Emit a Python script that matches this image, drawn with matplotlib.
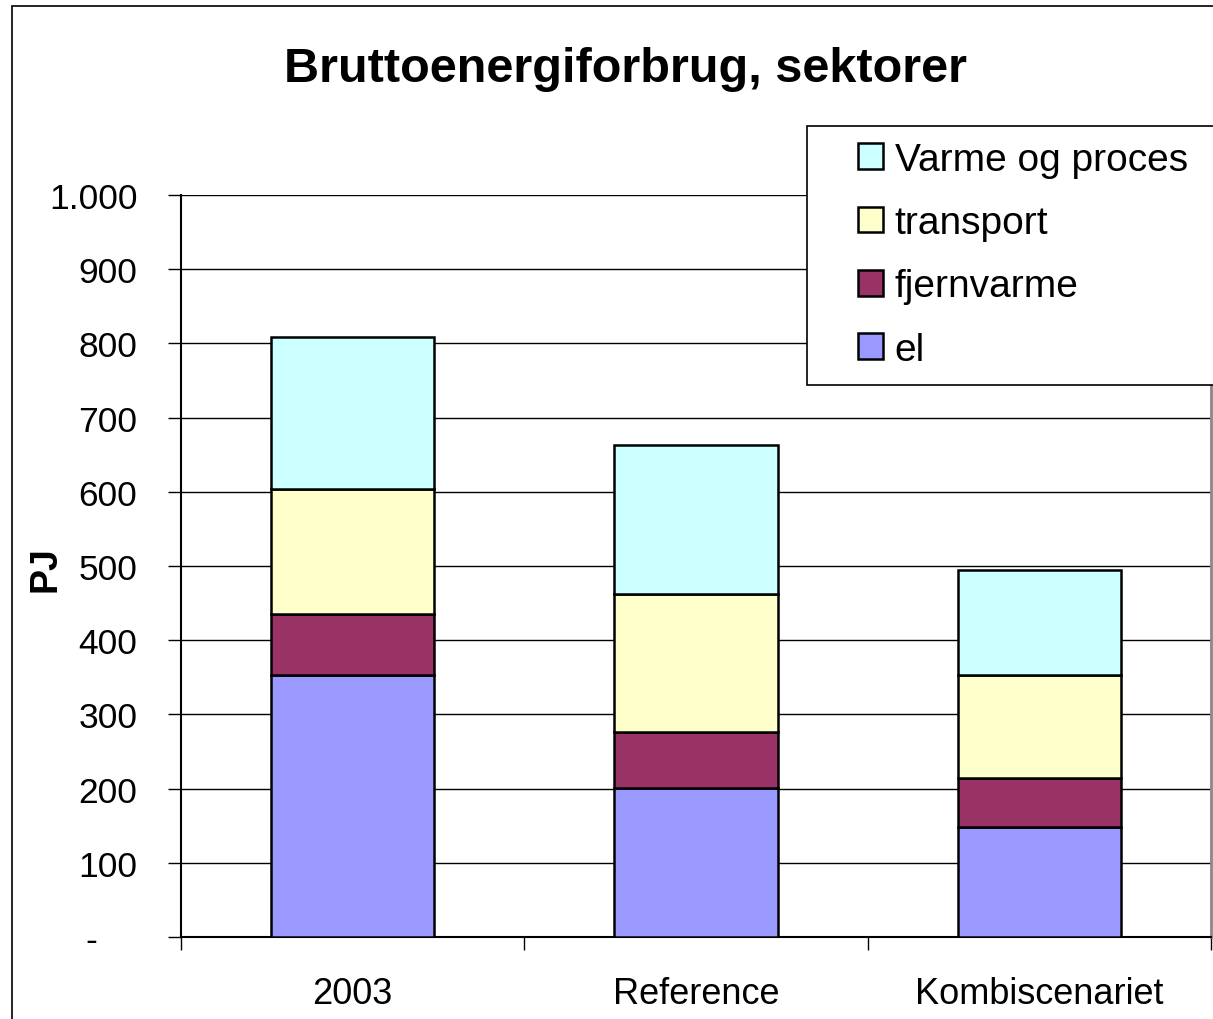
import numpy as np
import matplotlib.pyplot as plt
from matplotlib.patches import Rectangle

plt.rcParams['font.family'] = ['Liberation Sans', 'DejaVu Sans']

categories = ['2003', 'Reference', 'Kombiscenariet']
series = ['el', 'fjernvarme', 'transport', 'Varme og proces']
el = [353, 201, 148]
fjernvarme = [82, 75, 66]
transport = [169, 186, 139]
varme = [205, 201, 142]
colors = ['#9999FF', '#993366', '#FFFFCC', '#CCFFFF']
yticks = [0, 100, 200, 300, 400, 500, 600, 700, 800, 900, 1000]
ylabels = ['-    ', '100', '200', '300', '400', '500', '600', '700', '800', '900', '1.000']

fig = plt.figure(figsize=(12.13, 10.2), dpi=100)
ax = fig.add_axes([181/1213, 1 - 938/1020, 1030/1213, 742/1020])

x = np.arange(len(categories))
bottom = np.zeros(len(categories))
handles = []
for vals, name, c in zip([el, fjernvarme, transport, varme], series, colors):
    b = ax.bar(x, vals, 0.475, bottom=bottom, color=c, edgecolor='black',
               linewidth=1.8, label=name, zorder=3)
    handles.append(b)
    bottom += np.array(vals)

ax.set_xlim(-0.5, 2.5)
ax.set_ylim(0, 1000)
ax.set_yticks(yticks)
ax.set_yticklabels(ylabels, fontsize=25.5)
ax.yaxis.grid(True, color='black', linewidth=1.0, zorder=0)
ax.set_axisbelow(True)
ax.tick_params(axis='y', length=9.5, width=1, direction='out', pad=22)

ax.set_xticks(x)
ax.set_xticklabels(categories, fontsize=26)
ax.tick_params(axis='x', which='major', length=0, pad=28)
ax.set_xticks([-0.5, 0.5, 1.5, 2.5], minor=True)
ax.tick_params(axis='x', which='minor', length=9, width=1, direction='out')

ax.spines['top'].set_visible(False)
ax.spines['right'].set_color('#888888')
ax.spines['right'].set_linewidth(2)
ax.spines['left'].set_linewidth(1.5)
ax.spines['bottom'].set_linewidth(1.5)

fig.text(45/1213, 1 - 569/1020, 'PJ', fontsize=27, fontweight='bold',
         rotation=90, ha='center', va='center')

fig.text(625/1213, 1 - 70/1020, 'Bruttoenergiforbrug, sektorer', fontsize=35,
         fontweight='bold', ha='center', va='center')

# legend box drawn separately so it can run off the right edge
fig.add_artist(Rectangle((807/1213, 1 - 386/1020), 420/1213, 259/1020,
                         transform=fig.transFigure, facecolor='white',
                         edgecolor='black', linewidth=1.2, zorder=2))
leg = fig.legend(handles[::-1], series[::-1], loc='upper left',
                 bbox_to_anchor=(858/1213, 1 - 143/1020), fontsize=28,
                 frameon=False, borderpad=0, labelspacing=0.7,
                 handlelength=0.64, handleheight=0.64, handletextpad=0.3,
                 borderaxespad=0)

fig.add_artist(Rectangle((12/1213, -0.1), 1.2, 1 - 7/1020 + 0.1,
                         transform=fig.transFigure, fill=False,
                         edgecolor='black', linewidth=1.2, clip_on=False))

fig.savefig('out.png', dpi=100)
